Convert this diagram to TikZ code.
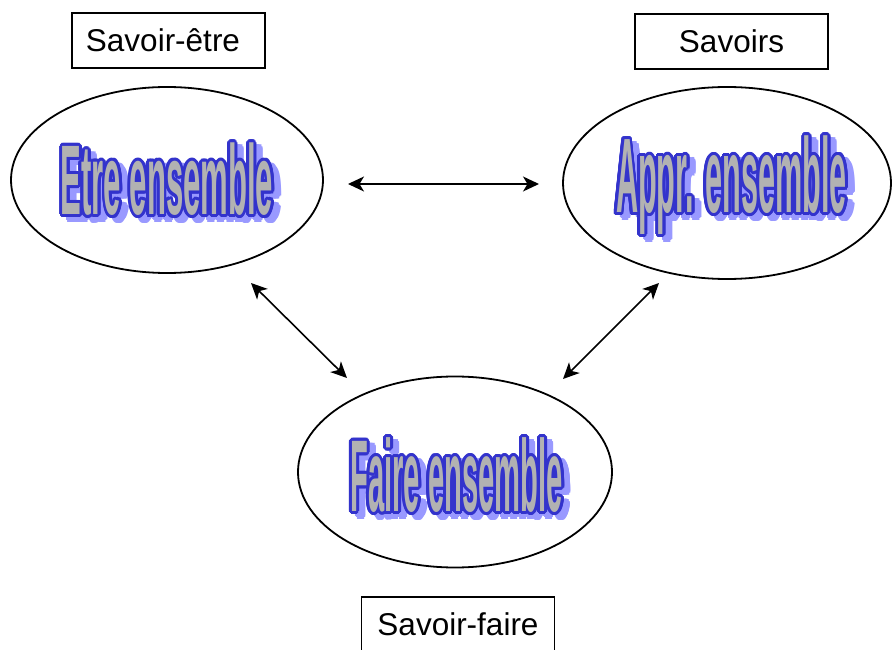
\documentclass[tikz,border=0pt]{standalone}
\usepackage{fontspec}
\setmainfont{Liberation Sans}
\usetikzlibrary{shapes.geometric,arrows.meta}
\newfontfamily\etrefont[FakeStretch=0.314]{Liberation Sans Bold}
\newfontfamily\apprfont[FakeStretch=0.289]{Liberation Sans Bold}
\newfontfamily\fairefont[FakeStretch=0.286]{Liberation Sans Bold}
\definecolor{waBlue}{RGB}{51,51,204}
\definecolor{waGray}{RGB}{178,178,178}
\definecolor{waShadow}{RGB}{153,153,255}
% word-art: shadow copies, blue contour copies, grey face
\newcommand\waText[1]{%
  \foreach \a in {0,30,...,330}{%
    \pgfmathsetmacro\wdx{6.5+2.9*cos(\a)}\pgfmathsetmacro\wdy{-5+2.9*sin(\a)}%
    \rlap{\kern\wdx pt\raisebox{\wdy pt}{\color{waShadow}#1}}}%
  \foreach \a in {0,22.5,...,337.5}{%
    \pgfmathsetmacro\wdx{2.9*cos(\a)}\pgfmathsetmacro\wdy{2.9*sin(\a)}%
    \rlap{\kern\wdx pt\raisebox{\wdy pt}{\color{waBlue}#1}}}%
  {\color{waGray}#1}}
\begin{document}
\begin{tikzpicture}[x=1pt,y=1pt,
  oval/.style={ellipse, draw, line width=1.8pt, inner sep=0pt},
  labelbox/.style={draw, line width=1.6pt, minimum width=193pt, minimum height=55pt, inner sep=0pt, font=\fontsize{31.5}{36}\selectfont},
  link/.style={line width=1.6pt, {Stealth[length=16pt,width=15pt,inset=4.5pt]}-{Stealth[length=16pt,width=15pt,inset=4.5pt]}},
  wordart/.style={anchor=base, inner sep=0pt}]
\useasboundingbox (0,0) rectangle (892,649);
\fill[white] (0,0) rectangle (892,649);
% ellipses
\node[oval, minimum width=312pt, minimum height=186pt] (L) at (167,469) {};
\node[oval, minimum width=328pt, minimum height=192pt] (R) at (727,466) {};
\node[oval, minimum width=314pt, minimum height=191pt] (B) at (455,177) {};
% word-art texts
\node[wordart, font=\etrefont\fontsize{99}{100}\selectfont] (tE) at (167,434.5) {\waText{Etre ensemble}};
\node[wordart, font=\apprfont\fontsize{106}{100}\selectfont] (tA) at (731.5,436.5) {\waText{Appr. ensemble}};
\node[wordart, font=\fairefont\fontsize{102}{100}\selectfont] (tF) at (456.5,137.5) {\waText{Faire ensemble}};
% label boxes
\node[labelbox] (kE) at (168.5,608.5) {Savoir-être\hspace*{11pt}};
\node[labelbox] (kS) at (731.5,607.5) {Savoirs};
\node[labelbox] (kF) at (458,24.5) {Savoir-faire};
% arrows
\draw[link] ([shift={(181,-4)}]L.center) -- ([shift={(-188,-1)}]R.center);
\draw[link] ([shift={(84,-103)}]L.center) -- ([shift={(-108,94)}]B.center);
\draw[link] ([shift={(-68,-100)}]R.center) -- ([shift={(108,93)}]B.center);
\end{tikzpicture}
\end{document}
